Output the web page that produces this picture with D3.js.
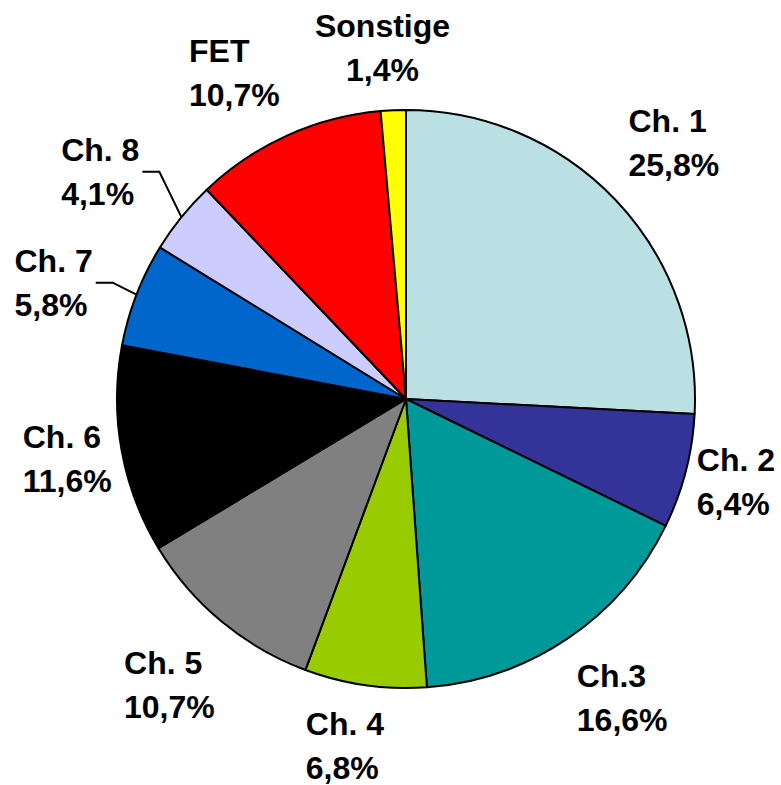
<!DOCTYPE html>
<html>
<head>
<meta charset="utf-8">
<script src="https://cdn.jsdelivr.net/npm/d3@7"></script>
<style>
  body { margin: 0; background: #fff; }
  text { font-family: "Liberation Sans", Arial, sans-serif; font-weight: bold; font-size: 32px; fill: #000; }
</style>
</head>
<body>
<div id="pie"></div>
<script>
// data
var categories = ["Ch. 1", "Ch. 2", "Ch.3", "Ch. 4", "Ch. 5", "Ch. 6", "Ch. 7", "Ch. 8", "FET", "Sonstige"];
var shares = [25.8, 6.4, 16.6, 6.8, 10.7, 11.6, 5.8, 4.1, 10.7, 1.4];
var shareLabels = ["25,8%", "6,4%", "16,6%", "6,8%", "10,7%", "11,6%", "5,8%", "4,1%", "10,7%", "1,4%"];
var colors = ["#BBE0E3", "#333399", "#009999", "#99CC00", "#808080", "#000000", "#0066CC", "#CCCCFF", "#FF0000", "#FFFF00"];

// label layout: distance of the label block centre from the pie centre,
// and a small turn (degrees) away from the slice's middle angle
var labelDist = [370.6, 340.2, 368.2, 351.7, 370.9, 343.9, 371.1, 380.9, 368.9, 352.5];
var labelTurn = [-0.2, -0.4, -1.9, 1.9, 0, 0.3, -2.9, -2.4, -3.4, -1.3];
var labelAlign = ["left", "left", "left", "left", "left", "left", "left", "left", "left", "middle"];
var hasLeader = [false, false, false, false, false, false, true, true, false, false];

var width = 781;
var height = 785;
var cx = 406, cy = 399, radius = 289;
var lineGap = 44;

var svg = d3.select("#pie").append("svg").attr("width", width).attr("height", height);
var g = svg.append("g").attr("transform", "translate(" + cx + "," + cy + ")");

var pie = d3.pie().sort(null).value(function(d) { return d; });
var arcs = pie(shares);
var arc = d3.arc().innerRadius(0).outerRadius(radius);

// slices
g.selectAll(".slice").data(arcs).enter().append("path")
    .attr("class", "slice")
    .attr("d", arc)
    .attr("fill", function(d, i) { return colors[i]; })
    .attr("stroke", "#000")
    .attr("stroke-width", 2)
    .attr("stroke-linejoin", "round");

function mid(d) { return (d.startAngle + d.endAngle) / 2; }
function polar(a, r) { return [Math.sin(a) * r, -Math.cos(a) * r]; }

// labels
arcs.forEach(function(d, i) {
    var p = polar(mid(d) + labelTurn[i] * Math.PI / 180, labelDist[i]);
    var t = g.append("text");
    t.append("tspan").text(categories[i]);
    t.append("tspan").text(shareLabels[i]);
    var tspans = t.selectAll("tspan").nodes();
    var w0 = tspans[0].getComputedTextLength();
    var w1 = tspans[1].getComputedTextLength();
    var bw = Math.max(w0, w1);
    var b1 = p[1] - 10.5;
    var x0 = labelAlign[i] === "middle" ? p[0] : p[0] - bw / 2;
    var anchor = labelAlign[i] === "middle" ? "middle" : "start";
    d3.select(tspans[0]).attr("x", x0).attr("y", b1).attr("text-anchor", anchor);
    d3.select(tspans[1]).attr("x", x0).attr("y", b1 + lineGap).attr("text-anchor", anchor);

    // leader lines for the narrow slices on the left
    if (hasLeader[i]) {
        var edge = polar(mid(d), radius);
        var endX = x0 + w0 + 3;
        var elbow = [endX + 17, p[1]];
        g.append("polyline")
            .attr("points", [edge, elbow, [endX, p[1]]].map(function(q) { return q.join(","); }).join(" "))
            .attr("fill", "none")
            .attr("stroke", "#000")
            .attr("stroke-width", 2);
    }
});
</script>
</body>
</html>
